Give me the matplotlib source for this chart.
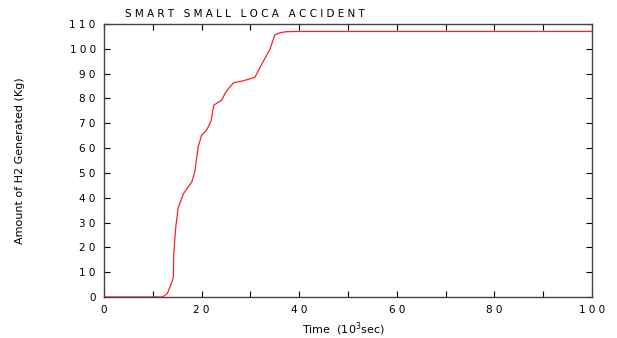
import matplotlib
matplotlib.use('Agg')
import matplotlib.pyplot as plt

# hydrogen generated vs time (10^3 sec)
time = [0, 5, 10, 12.0, 13.0, 13.5, 14.0, 14.2, 14.3, 14.7, 15.2, 16.3, 18.0, 18.6, 19.3,
        20.0, 21.0, 21.9, 22.5, 24.1, 25.0, 26.5, 28.5, 30.9, 32.6, 34.0, 35.0, 36.1,
        37.4, 40, 60, 80, 100]
h2 = [0, 0, 0, 0, 1.5, 4, 6.5, 8, 17.6, 28, 36, 41.7, 46.4, 50.4, 60.5,
      65.2, 67.2, 70.6, 77.3, 79.3, 82.7, 86.3, 87.1, 88.5, 94.8, 99.8, 105.6, 106.5,
      106.9, 107, 107, 107, 107]

x_ticks = [0, 20, 40, 60, 80, 100]
y_ticks = [0, 10, 20, 30, 40, 50, 60, 70, 80, 90, 100, 110]


def spaced(v):
    return ' '.join(str(v))


fig = plt.figure(figsize=(6.17, 3.38), dpi=100)
ax = fig.add_axes([104 / 617, 1 - 297 / 338, 488 / 617, 273 / 338])

ax.plot(time, h2, color='#ff2020', linewidth=0.9)

ax.set_xlim(0, 100)
ax.set_ylim(0, 110)
ax.set_xticks(x_ticks)
ax.set_xticklabels([spaced(v) for v in x_ticks], fontsize=7.5)
ax.set_xticks(range(0, 101, 10), minor=True)
ax.set_yticks(y_ticks)
ax.set_yticklabels([spaced(v) for v in y_ticks], fontsize=7.5)
ax.tick_params(direction='in', top=True, right=True, length=4, width=0.8,
               which='both', pad=6)
ax.tick_params(which='minor', length=4)
for s in ax.spines.values():
    s.set_linewidth(1.0)
    s.set_color('#444444')

ax.set_xlabel('Time  (10$^3$sec)', fontsize=8)
ax.xaxis.set_label_coords(0.49, -0.085)
ax.set_ylabel('Amount of H2 Generated (Kg)', fontsize=8)
ax.yaxis.set_label_coords((25 - 104) / 488, 0.5)
fig.text(125 / 617, 1 - 14 / 338, 'S M A R T   S M A L L   L O C A   A C C I D E N T',
         fontsize=7.5, va='center', ha='left')

plt.savefig('out.png')
